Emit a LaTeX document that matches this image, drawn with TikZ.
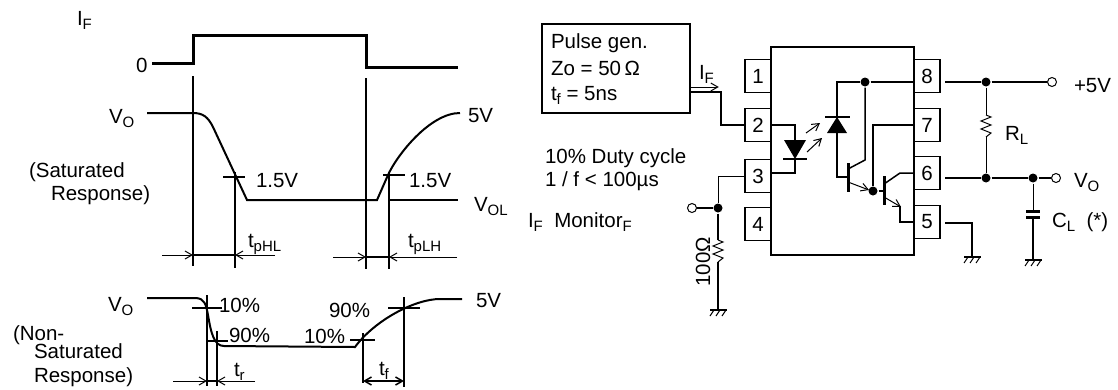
\documentclass[tikz,border=0pt]{standalone}
\usepackage{fontspec}
\setmainfont{Liberation Sans}
\usetikzlibrary{positioning, calc, arrows.meta}

\newcommand{\sbs}[1]{\raisebox{-4pt}{\fontsize{15}{15}\selectfont #1}}

\tikzset{
    lbl/.style={inner sep=0pt, anchor=base west},
    pin/.style={draw, fill=white, line width=1.5pt, minimum width=26pt, minimum height=33pt, inner sep=0pt},
    dot/.style={circle, fill, inner sep=0pt, minimum size=9pt},
    term/.style={circle, draw, fill=white, line width=1pt, inner sep=0pt, minimum size=9pt},
    barb/.style={line width=1pt, -{Straight Barb[length=7pt, width=8pt]}},
    gnd/.pic={\draw[line width=2pt] (-8,0) -- (9,0);
              \foreach \hx in {-4,2,8} \draw[line width=1pt] (\hx,0) -- ++(-4,6);},
    res/.pic={\draw[line width=1pt] (0,0) -- (5,2) -- (-5,6) -- (5,10) -- (-5,14) -- (5,18) -- (0,22);}
}

\begin{document}
\begin{tikzpicture}[x=1pt, y=-1pt, line width=2pt, font=\fontsize{20.5}{24}\selectfont]
    \useasboundingbox (0,0) rectangle (1118,389);

    % timing, saturated response
    \node[lbl] (ifl) at (76,25) {I\sbs{F}};
    \node[lbl] (zero) at (135,72) {0};
    \draw[line width=3pt] (152,63) -- (193,63) -- (193,35) -- (366,35) -- (366,67) -- (458,67);
    \draw (193,76) -- (193,266);
    \draw (366,78) -- (366,269);
    \node[lbl] (vo1) at (108,123) {V\sbs{O}};
    \node[lbl] (sat1) at (28,177) {(Saturated};
    \node[lbl] (sat2) at (50,200) {Response)};
    \draw (147,113) -- (193,113) .. controls (203,113) and (208,117) .. (213,127) -- (247,200) -- (377,200)
          -- (388,175) .. controls (397,155) and (430,113) .. (460,113);
    \draw (389,200) -- (458,200);
    \node[lbl] (v5a) at (467,122) {5V};
    \node[lbl] (vol) at (473,211) {V\sbs{OL}};
    \draw (223,177) -- (245,177);
    \draw (235,172) -- (235,268);
    \node[lbl] (th1) at (255,187) {1.5V};
    \draw (383,175) -- (405,175);
    \draw (389,172) -- (389,269);
    \node[lbl] (th2) at (408,187) {1.5V};
    \draw[barb] (162,255) -- (193,255);
    \draw (193,255) -- (235,255);
    \draw[barb] (275,255) -- (235,255);
    \node[lbl] (tphl) at (247,247) {t\sbs{pHL}};
    \draw[barb] (333,257) -- (366,257);
    \draw (366,257) -- (389,257);
    \draw[barb] (457,257) -- (389,257);
    \node[lbl] (tplh) at (407,247) {t\sbs{pLH}};

    % timing, non-saturated response
    \node[lbl] (vo2) at (107,311) {V\sbs{O}};
    \node[lbl] (ns1) at (12,340) {(Non-};
    \node[lbl] (ns2) at (33,358) {Saturated};
    \node[lbl] (ns3) at (33,382) {Response)};
    \draw (147,298) -- (195,298) .. controls (205,298) and (206,305) .. (208,315)
          .. controls (211,333) and (214,346) .. (224,346) -- (355,347)
          .. controls (375,320) and (415,299) .. (440,299) -- (462,299);
    \draw (192,308) -- (222,308);
    \draw (207,295) -- (207,386);
    \node[lbl] (p10a) at (218,312) {10\%};
    \draw (206,341) -- (228,341);
    \draw (217,331) -- (217,386);
    \node[lbl] (p90a) at (228,342) {90\%};
    \draw (350,340) -- (375,340);
    \draw (363,333) -- (363,383);
    \node[lbl] (p10b) at (303,343) {10\%};
    \draw (388,308) -- (420,308);
    \draw (404,297) -- (404,387);
    \node[lbl] (p90b) at (328,317) {90\%};
    \node[lbl] (v5b) at (475,307) {5V};
    \draw[barb] (173,381) -- (207,381);
    \draw (207,381) -- (217,381);
    \draw[barb] (255,381) -- (217,381);
    \node[lbl] (trl) at (233,376) {t\sbs{r}};
    \draw[line width=1.5pt, {Straight Barb[length=7pt, width=8pt]}-{Straight Barb[length=7pt, width=8pt]}] (363,381) -- (404,381);
    \node[lbl] (tfl) at (378,375) {t\sbs{f}};

    % test circuit
    \node[draw, line width=1.5pt, minimum width=148pt, minimum height=89pt] (gen) at (616,68.5) {};
    \node[lbl] (gen1) at (550,48) {Pulse gen.};
    \node[lbl] (gen2) at (550,75) {Zo = 50\,Ω};
    \node[lbl] (gen3) at (550,100) {t\sbs{f} = 5ns};
    \node[lbl] (duty1) at (544,163) {10\% Duty cycle};
    \node[lbl] (duty2) at (544,186) {1 / f < 100µs};
    \node[lbl] (mon) at (527,227) {I\sbs{F}\ \ Monitor\sbs{F}};

    \draw (771,47) rectangle (914,255);
    \foreach \n/\y in {1/76,2/125,3/176,4/224}
        \node[pin] (p\n) at (758,\y) {\n};
    \foreach \n/\y in {8/76,7/125,6/173,5/222}
        \node[pin] (p\n) at (927,\y) {\n};

    \coordinate (gin) at ($(gen.east)+(0,23.5)$);
    \draw (gin) -- ++(30,0) |- (p2.west);
    \draw[barb] ($(gen.east)+(0,18.5)$) -- ++(28,0);
    \node[lbl] (ifa) at (698,79) {I\sbs{F}};

    % LED
    \draw[line width=1.5pt] (p2.east) -| (795,140);
    \fill (784,140) -- (806,140) -- (795,159) -- cycle;
    \draw[line width=2.5pt] (783,159) -- (807,159);
    \draw[line width=1.5pt] (795,159) |- (771,173);
    \draw[barb] (806,133) -- (820,123);
    \draw[barb] (807,152) -- (822,138);

    % photodiode and transistors
    \node[dot] (j1) at (865,82) {};
    \node[dot] (j2) at (873,191) {};
    \fill (827,133) -- (847,133) -- (837,117) -- cycle;
    \draw[line width=2.5pt] (825,117) -- (850,117);
    \draw[line width=1.5pt] (837,117) |- (j1);
    \draw[line width=1.5pt] (j1) -- (914,82);
    \draw[line width=1.5pt] (837,133) |- (848,177);
    \draw[line width=3pt] (848,163) -- (848,192);
    \draw[line width=1.5pt] (848,169) -- (865,160) -- (j1);
    \draw[barb] (848,182) -- (869,190);
    \draw[line width=1.5pt] (j2) |- (p7.west);
    \draw[line width=1.5pt] (j2) -- (884,191);
    \draw[line width=3pt] (884,176) -- (884,205);
    \draw[line width=1.5pt] (884,184) -- (900,173) -- (p6.west);
    \draw[barb] (884,197) -- (901,207);
    \draw[line width=1.5pt] (900,206) |- (p5.west);

    % output side
    \coordinate (o8) at (945,82);
    \coordinate (o6) at (945,178);
    \coordinate (o5) at (945,223);
    \node[dot] (j3) at (986,82) {};
    \node[dot] (j4) at (986,178) {};
    \node[dot] (j5) at (1033,178) {};
    \node[term] (vcc) at (1052,82) {};
    \node[term] (vout) at (1056,178) {};
    \draw (o8) -- (j3) -- (vcc);
    \draw (o6) -- (j4) -- (j5) -- (vout);
    \draw[line width=1pt] (j3) -- (986,115);
    \pic at (986,115) {res};
    \draw[line width=1pt] (986,137) -- (j4);
    \node[lbl] (rl) at (1004,140) {R\sbs{L}};
    \node[lbl] (vccl) at (1073,92) {+5V};
    \node[lbl] (voutl) at (1073,187) {V\sbs{O}};
    \draw[line width=1pt] (j5) -- (1033,211);
    \draw[line width=3pt] (1026,211) -- (1040,211);
    \draw[line width=3pt] (1026,217) -- (1040,217);
    \draw (1033,217) -- (1033,260);
    \pic at (1033,260) {gnd};
    \node[lbl] (cl) at (1051,227) {C\sbs{L}\ \ (*)};
    \draw (o5) -| (972,257);
    \pic at (972,257) {gnd};

    % monitor side
    \node[dot] (j6) at (718,208) {};
    \node[term] (mont) at (692,208) {};
    \draw[line width=1pt] (p3.west) -| (j6);
    \draw (mont) -- (j6);
    \draw (j6) -- (718,240);
    \pic at (718,240) {res};
    \draw (718,262) -- (718,310);
    \pic at (718,310) {gnd};
    \node[rotate=90, inner sep=0pt] (r100) at (703,262) {100Ω};
\end{tikzpicture}
\end{document}
